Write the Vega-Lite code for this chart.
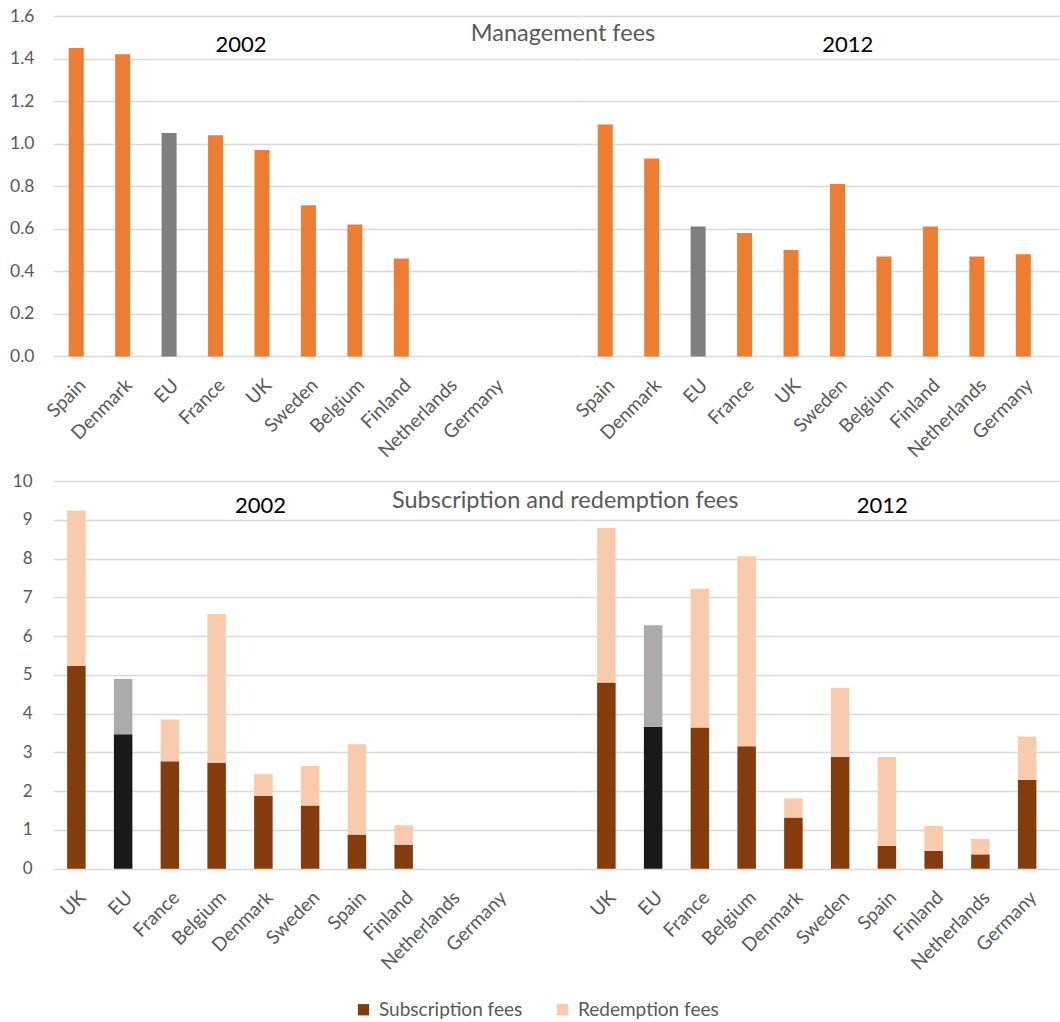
{
  "$schema": "https://vega.github.io/schema/vega-lite/v6.json",
  "padding": {"left": 9, "top": 7, "right": 0, "bottom": 0},
  "background": "white",
  "datasets": {
    "mgmt": [
      {"year": 2002, "country": "Spain", "value": 1.45},
      {"year": 2002, "country": "Denmark", "value": 1.42},
      {"year": 2002, "country": "EU", "value": 1.05},
      {"year": 2002, "country": "France", "value": 1.04},
      {"year": 2002, "country": "UK", "value": 0.97},
      {"year": 2002, "country": "Sweden", "value": 0.71},
      {"year": 2002, "country": "Belgium", "value": 0.62},
      {"year": 2002, "country": "Finland", "value": 0.46},
      {"year": 2012, "country": "Spain", "value": 1.09},
      {"year": 2012, "country": "Denmark", "value": 0.93},
      {"year": 2012, "country": "EU", "value": 0.61},
      {"year": 2012, "country": "France", "value": 0.58},
      {"year": 2012, "country": "UK", "value": 0.50},
      {"year": 2012, "country": "Sweden", "value": 0.81},
      {"year": 2012, "country": "Belgium", "value": 0.47},
      {"year": 2012, "country": "Finland", "value": 0.61},
      {"year": 2012, "country": "Netherlands", "value": 0.47},
      {"year": 2012, "country": "Germany", "value": 0.48}
    ],
    "fees": [
      {"year": 2002, "country": "UK", "fee": "Subscription fees", "value": 5.23},
      {"year": 2002, "country": "UK", "fee": "Redemption fees", "value": 4.01},
      {"year": 2002, "country": "EU", "fee": "Subscription fees", "value": 3.47},
      {"year": 2002, "country": "EU", "fee": "Redemption fees", "value": 1.42},
      {"year": 2002, "country": "France", "fee": "Subscription fees", "value": 2.77},
      {"year": 2002, "country": "France", "fee": "Redemption fees", "value": 1.08},
      {"year": 2002, "country": "Belgium", "fee": "Subscription fees", "value": 2.73},
      {"year": 2002, "country": "Belgium", "fee": "Redemption fees", "value": 3.84},
      {"year": 2002, "country": "Denmark", "fee": "Subscription fees", "value": 1.88},
      {"year": 2002, "country": "Denmark", "fee": "Redemption fees", "value": 0.56},
      {"year": 2002, "country": "Sweden", "fee": "Subscription fees", "value": 1.63},
      {"year": 2002, "country": "Sweden", "fee": "Redemption fees", "value": 1.02},
      {"year": 2002, "country": "Spain", "fee": "Subscription fees", "value": 0.88},
      {"year": 2002, "country": "Spain", "fee": "Redemption fees", "value": 2.33},
      {"year": 2002, "country": "Finland", "fee": "Subscription fees", "value": 0.62},
      {"year": 2002, "country": "Finland", "fee": "Redemption fees", "value": 0.50},
      {"year": 2012, "country": "UK", "fee": "Subscription fees", "value": 4.80},
      {"year": 2012, "country": "UK", "fee": "Redemption fees", "value": 3.99},
      {"year": 2012, "country": "EU", "fee": "Subscription fees", "value": 3.66},
      {"year": 2012, "country": "EU", "fee": "Redemption fees", "value": 2.62},
      {"year": 2012, "country": "France", "fee": "Subscription fees", "value": 3.64},
      {"year": 2012, "country": "France", "fee": "Redemption fees", "value": 3.58},
      {"year": 2012, "country": "Belgium", "fee": "Subscription fees", "value": 3.16},
      {"year": 2012, "country": "Belgium", "fee": "Redemption fees", "value": 4.90},
      {"year": 2012, "country": "Denmark", "fee": "Subscription fees", "value": 1.32},
      {"year": 2012, "country": "Denmark", "fee": "Redemption fees", "value": 0.49},
      {"year": 2012, "country": "Sweden", "fee": "Subscription fees", "value": 2.88},
      {"year": 2012, "country": "Sweden", "fee": "Redemption fees", "value": 1.79},
      {"year": 2012, "country": "Spain", "fee": "Subscription fees", "value": 0.59},
      {"year": 2012, "country": "Spain", "fee": "Redemption fees", "value": 2.29},
      {"year": 2012, "country": "Finland", "fee": "Subscription fees", "value": 0.46},
      {"year": 2012, "country": "Finland", "fee": "Redemption fees", "value": 0.64},
      {"year": 2012, "country": "Netherlands", "fee": "Subscription fees", "value": 0.37},
      {"year": 2012, "country": "Netherlands", "fee": "Redemption fees", "value": 0.40},
      {"year": 2012, "country": "Germany", "fee": "Subscription fees", "value": 2.29},
      {"year": 2012, "country": "Germany", "fee": "Redemption fees", "value": 1.12}
    ]
  },
  "vconcat": [
    {
      "title": {"text": "Management fees", "anchor": "middle", "frame": "bounds", "offset": -57, "dx": 28, "baseline": "alphabetic", "fontSize": 23.5, "fontWeight": "normal", "color": "#595959", "font": "Lato"},
      "bounds": "flush",
      "spacing": 0,
      "resolve": {"scale": {"x": "independent", "y": "independent"}},
      "hconcat": [
        {
          "width": 528.5,
          "height": 340.4,
          "layer": [
            {
              "data": {"name": "mgmt"},
              "transform": [{"filter": "datum.year == 2002"}],
              "mark": {"type": "bar", "width": 15},
              "encoding": {
                "x": {"field": "country", "type": "nominal", "sort": null,
                  "scale": {"domain": ["Spain", "Denmark", "EU", "France", "UK", "Sweden", "Belgium", "Finland", "Netherlands", "Germany"], "paddingInner": 0, "paddingOuter": 0.69, "align": 0},
                  "axis": {"title": null, "labelAngle": -45, "ticks": false, "domain": false, "grid": false, "labelPadding": 19, "labelFontSize": 19, "labelColor": "#595959", "labelOverlap": false}},
                "y": {"field": "value", "type": "quantitative",
                  "scale": {"domain": [0, 1.6], "nice": false},
                  "axis": {"title": null, "values": [0, 0.2, 0.4, 0.6, 0.8, 1.0, 1.2, 1.4, 1.6], "tickCount": 9, "format": ".1f", "domain": false, "ticks": false, "labelPadding": 19, "labelFontSize": 17.5, "labelColor": "#595959", "labelOverlap": false, "grid": true, "gridColor": "#D9D9D9", "gridWidth": 1.5}},
                "color": {"condition": {"test": "datum.country === 'EU'", "value": "#7F7F7F"}, "value": "#ED7D31"}
              }
            },
            {
              "data": {"values": [{"country": "France", "label": "2002"}]},
              "mark": {"type": "text", "fontSize": 22, "color": "#000000", "baseline": "middle"},
              "encoding": {
                "x": {"field": "country", "type": "nominal", "bandPosition": 1.05},
                "y": {"datum": 1.465},
                "text": {"field": "label"}
              }
            }
          ]
        },
        {
          "width": 478.5,
          "height": 340.4,
          "layer": [
            {
              "data": {"name": "mgmt"},
              "transform": [{"filter": "datum.year == 2012"}],
              "mark": {"type": "bar", "width": 15},
              "encoding": {
                "x": {"field": "country", "type": "nominal", "sort": null,
                  "scale": {"domain": ["Spain", "Denmark", "EU", "France", "UK", "Sweden", "Belgium", "Finland", "Netherlands", "Germany"], "paddingInner": 0, "paddingOuter": 0.15, "align": 0},
                  "axis": {"title": null, "labelAngle": -45, "ticks": false, "domain": false, "grid": false, "labelPadding": 19, "labelFontSize": 19, "labelColor": "#595959", "labelOverlap": false}},
                "y": {"field": "value", "type": "quantitative",
                  "scale": {"domain": [0, 1.6], "nice": false},
                  "axis": {"title": null, "values": [0, 0.2, 0.4, 0.6, 0.8, 1.0, 1.2, 1.4, 1.6], "tickCount": 9, "labels": false, "domain": false, "ticks": false, "grid": true, "gridColor": "#D9D9D9", "gridWidth": 1.5}},
                "color": {"condition": {"test": "datum.country === 'EU'", "value": "#7F7F7F"}, "value": "#ED7D31"}
              }
            },
            {
              "data": {"values": [{"country": "Sweden", "label": "2012"}]},
              "mark": {"type": "text", "fontSize": 22, "color": "#000000", "baseline": "middle"},
              "encoding": {
                "x": {"field": "country", "type": "nominal", "bandPosition": 0.72},
                "y": {"datum": 1.465},
                "text": {"field": "label"}
              }
            }
          ]
        }
      ]
    },
    {
      "title": {"text": "Subscription and redemption fees", "anchor": "middle", "frame": "bounds", "offset": -59, "dx": 27, "baseline": "alphabetic", "fontSize": 23.5, "fontWeight": "normal", "color": "#595959", "font": "Lato"},
      "bounds": "flush",
      "spacing": 0,
      "resolve": {"scale": {"x": "independent", "y": "independent", "color": "shared"}},
      "hconcat": [
        {
          "width": 529.9,
          "height": 387.7,
          "layer": [
            {
              "data": {"name": "fees"},
              "transform": [{"filter": "datum.year == 2002"}],
              "mark": {"type": "bar", "width": 18.5},
              "encoding": {
                "x": {"field": "country", "type": "nominal", "sort": null,
                  "scale": {"domain": ["UK", "EU", "France", "Belgium", "Denmark", "Sweden", "Spain", "Finland", "Netherlands", "Germany"], "paddingInner": 0, "paddingOuter": 0.667, "align": 0},
                  "axis": {"title": null, "labelAngle": -45, "ticks": false, "domain": false, "grid": false, "labelPadding": 19, "labelFontSize": 19, "labelColor": "#595959", "labelOverlap": false}},
                "y": {"field": "value", "type": "quantitative", "stack": "zero",
                  "scale": {"domain": [0, 10], "nice": false},
                  "axis": {"title": null, "values": [0, 1, 2, 3, 4, 5, 6, 7, 8, 9, 10], "tickCount": 11, "domain": false, "ticks": false, "labelPadding": 21, "labelFontSize": 17, "labelColor": "#595959", "labelOverlap": false, "grid": true, "gridColor": "#D9D9D9", "gridWidth": 1.5}},
                "color": {"field": "fee", "type": "nominal",
                  "scale": {"domain": ["Subscription fees", "Redemption fees"], "range": ["#843C0C", "#F8CBAD"]},
                  "condition": [
                    {"test": "datum.country === 'EU' && datum.fee === 'Subscription fees'", "value": "#191919"},
                    {"test": "datum.country === 'EU' && datum.fee === 'Redemption fees'", "value": "#AEAAAA"}
                  ],
                  "legend": {"title": null, "orient": "bottom", "direction": "horizontal", "symbolType": "square", "symbolSize": 128, "symbolStrokeWidth": 0, "labelFontSize": 19, "labelColor": "#595959", "columnPadding": 30, "labelOffset": 6, "offset": 26}},
                "order": {"field": "fee", "sort": "descending"}
              }
            },
            {
              "data": {"values": [{"country": "Denmark", "label": "2002"}]},
              "mark": {"type": "text", "fontSize": 22, "color": "#000000", "baseline": "middle"},
              "encoding": {
                "x": {"field": "country", "type": "nominal", "bandPosition": 0.44},
                "y": {"datum": 9.36},
                "text": {"field": "label"}
              }
            }
          ]
        },
        {
          "width": 481.1,
          "height": 387.7,
          "layer": [
            {
              "data": {"name": "fees"},
              "transform": [{"filter": "datum.year == 2012"}],
              "mark": {"type": "bar", "width": 18.5},
              "encoding": {
                "x": {"field": "country", "type": "nominal", "sort": null,
                  "scale": {"domain": ["UK", "EU", "France", "Belgium", "Denmark", "Sweden", "Spain", "Finland", "Netherlands", "Germany"], "paddingInner": 0, "paddingOuter": 0.145, "align": 0},
                  "axis": {"title": null, "labelAngle": -45, "ticks": false, "domain": false, "grid": false, "labelPadding": 19, "labelFontSize": 19, "labelColor": "#595959", "labelOverlap": false}},
                "y": {"field": "value", "type": "quantitative", "stack": "zero",
                  "scale": {"domain": [0, 10], "nice": false},
                  "axis": {"title": null, "values": [0, 1, 2, 3, 4, 5, 6, 7, 8, 9, 10], "tickCount": 11, "labels": false, "domain": false, "ticks": false, "grid": true, "gridColor": "#D9D9D9", "gridWidth": 1.5}},
                "color": {"field": "fee", "type": "nominal",
                  "scale": {"domain": ["Subscription fees", "Redemption fees"], "range": ["#843C0C", "#F8CBAD"]},
                  "condition": [
                    {"test": "datum.country === 'EU' && datum.fee === 'Subscription fees'", "value": "#191919"},
                    {"test": "datum.country === 'EU' && datum.fee === 'Redemption fees'", "value": "#AEAAAA"}
                  ],
                  "legend": {"title": null, "orient": "bottom", "direction": "horizontal", "symbolType": "square", "symbolSize": 128, "symbolStrokeWidth": 0, "labelFontSize": 19, "labelColor": "#595959", "columnPadding": 30, "labelOffset": 6, "offset": 26}},
                "order": {"field": "fee", "sort": "descending"}
              }
            },
            {
              "data": {"values": [{"country": "Spain", "label": "2012"}]},
              "mark": {"type": "text", "fontSize": 22, "color": "#000000", "baseline": "middle"},
              "encoding": {
                "x": {"field": "country", "type": "nominal", "bandPosition": 0.4},
                "y": {"datum": 9.36},
                "text": {"field": "label"}
              }
            }
          ]
        }
      ]
    }
  ],
  "spacing": 11,
  "resolve": {"scale": {"x": "independent", "y": "independent", "color": "shared"}},
  "config": {
    "font": "Lato",
    "view": {"stroke": null},
    "axis": {"labelFont": "Lato"},
    "legend": {"labelFont": "Lato", "layout": {"bottom": {"anchor": "middle"}}}
  }
}
